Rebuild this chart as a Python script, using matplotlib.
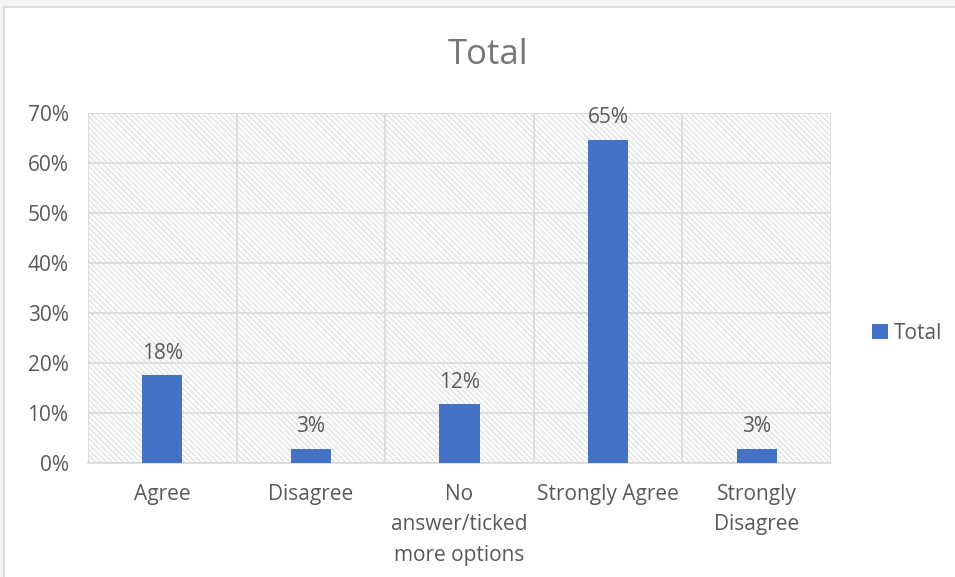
import matplotlib
matplotlib.use("Agg")
import matplotlib.pyplot as plt
import matplotlib.patches as mpatches
import numpy as np

# ── Data ─────────────────────────────────────────────────────────────────────
categories = ["Agree", "Disagree", "No\nanswer/ticked\nmore options",
              "Strongly Agree", "Strongly\nDisagree"]
values = [0.176, 0.029, 0.118, 0.647, 0.029]
bar_labels = ["18%", "3%", "12%", "65%", "3%"]
y_ticks = [0.0, 0.1, 0.2, 0.3, 0.4, 0.5, 0.6, 0.7]
series_name = "Total"

BAR_COLOR = "#4472C4"
TEXT_COLOR = "#595959"
TITLE_COLOR = "#767676"
GRID_COLOR = "#d9d9d9"
FS = 15

plt.rcParams["font.family"] = ["Open Sans", "DejaVu Sans"]
plt.rcParams["hatch.linewidth"] = 1.0
plt.rcParams["hatch.color"] = "#e2e2e2"

fig = plt.figure(figsize=(9.55, 5.77), dpi=100)
fig.patch.set_facecolor("#f2f2f2")

# chart-area frame (white with thin grey border, cut off at right/bottom)
frame = mpatches.Rectangle((4 / 955, -0.05), 1.1, (577 - 7) / 577 + 0.05,
                           transform=fig.transFigure, facecolor="white",
                           edgecolor=GRID_COLOR, linewidth=1.2, zorder=-10)
fig.patches.append(frame)

ax = fig.add_axes([88 / 955, (577 - 463) / 577, (831 - 88) / 955, (463 - 113) / 577])
ax.set_facecolor("none")

x = np.arange(len(categories))
ax.set_xlim(-0.5, len(categories) - 0.5)
ax.set_ylim(0, 0.7)

# hatched plot-area background
bg = mpatches.Rectangle((0, 0), 1, 1, transform=ax.transAxes, facecolor="white",
                        edgecolor="#e2e2e2", hatch="\\" * 6, linewidth=0, zorder=0)
ax.add_patch(bg)

ax.bar(x, values, width=0.27, color=BAR_COLOR, zorder=3, label=series_name)

for xi, v, lab in zip(x, values, bar_labels):
    ax.annotate(lab, (xi, v), xytext=(0, 8), textcoords="offset points",
                ha="center", va="bottom", fontsize=FS, color=TEXT_COLOR, zorder=4)

# grid
ax.set_yticks(y_ticks)
ax.set_yticklabels([f"{int(round(t * 100))}%" for t in y_ticks])
ax.set_xticks(x)
ax.set_xticklabels(categories, linespacing=1.6)
ax.set_xticks(np.arange(-0.5, len(categories)), minor=True)
ax.grid(axis="y", which="major", color=GRID_COLOR, linewidth=1.2, zorder=1)
ax.grid(axis="x", which="minor", color=GRID_COLOR, linewidth=1.2, zorder=1)
ax.grid(axis="x", which="major", visible=False)
ax.set_axisbelow(True)

ax.tick_params(axis="both", which="both", length=0, labelsize=FS, colors=TEXT_COLOR)
ax.tick_params(axis="x", pad=15)
ax.tick_params(axis="y", pad=14)
for s in ["top", "right", "left"]:
    ax.spines[s].set_visible(False)
ax.spines["bottom"].set_color(GRID_COLOR)
ax.spines["bottom"].set_linewidth(1.2)

fig.text(488 / 955, 1 - 55 / 577, "Total", ha="center", va="center",
         fontsize=25, color=TITLE_COLOR)

leg = ax.legend(loc="center left", bbox_to_anchor=(1.03, 0.37), frameon=False,
                fontsize=FS, handlelength=0.75, handleheight=0.75, handletextpad=0.3)
for t in leg.get_texts():
    t.set_color(TEXT_COLOR)

fig.savefig("out.png", dpi=100, facecolor=fig.get_facecolor())
